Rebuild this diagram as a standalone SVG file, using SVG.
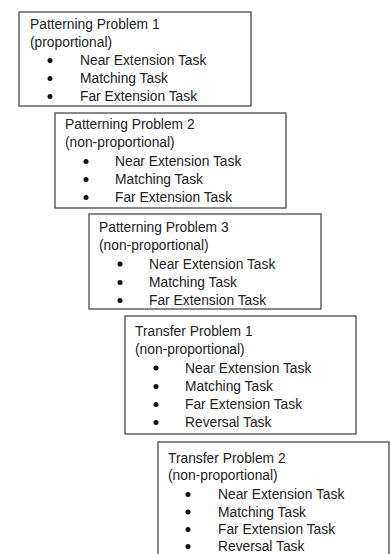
<svg xmlns="http://www.w3.org/2000/svg" width="390" height="554" viewBox="0 0 390 554">
<style>
  .box { fill: #ffffff; stroke: #4a4a4a; stroke-width: 1.3; }
  .t { font-family: "Liberation Sans", Arial, sans-serif; font-size: 13.8px; fill: #222222; }
  .dot { fill: #111111; }
</style>
<rect x="0" y="0" width="390" height="554" fill="#ffffff"/>
<g id="connectors"/>
<g id="patterning-problem-1">
  <rect class="box" x="19" y="12" width="232" height="94"/>
  <text class="t" x="30" y="28.5">Patterning Problem 1</text>
  <text class="t" x="30" y="46.5">(proportional)</text>
  <circle class="dot" cx="50" cy="60.5" r="2.5"/>
  <text class="t" x="80" y="65">Near Extension Task</text>
  <circle class="dot" cx="50" cy="78.5" r="2.5"/>
  <text class="t" x="80" y="83">Matching Task</text>
  <circle class="dot" cx="50" cy="96.5" r="2.5"/>
  <text class="t" x="80" y="101">Far Extension Task</text>
</g>
<g id="patterning-problem-2">
  <rect class="box" x="55" y="113" width="231" height="95"/>
  <text class="t" x="65" y="128.5">Patterning Problem 2</text>
  <text class="t" x="65" y="147">(non-proportional)</text>
  <circle class="dot" cx="86" cy="161.5" r="2.5"/>
  <text class="t" x="115" y="166">Near Extension Task</text>
  <circle class="dot" cx="86" cy="179.5" r="2.5"/>
  <text class="t" x="115" y="184">Matching Task</text>
  <circle class="dot" cx="86" cy="197.5" r="2.5"/>
  <text class="t" x="115" y="202">Far Extension Task</text>
</g>
<g id="patterning-problem-3">
  <rect class="box" x="89" y="214" width="232" height="95"/>
  <text class="t" x="99" y="232">Patterning Problem 3</text>
  <text class="t" x="99" y="250">(non-proportional)</text>
  <circle class="dot" cx="120" cy="264" r="2.5"/>
  <text class="t" x="149" y="268.5">Near Extension Task</text>
  <circle class="dot" cx="120" cy="282.5" r="2.5"/>
  <text class="t" x="149" y="287">Matching Task</text>
  <circle class="dot" cx="120" cy="300.5" r="2.5"/>
  <text class="t" x="149" y="305">Far Extension Task</text>
</g>
<g id="transfer-problem-1">
  <rect class="box" x="125" y="316" width="231" height="118"/>
  <text class="t" x="135" y="336">Transfer Problem 1</text>
  <text class="t" x="135" y="354">(non-proportional)</text>
  <circle class="dot" cx="156" cy="368" r="2.5"/>
  <text class="t" x="185" y="372.5">Near Extension Task</text>
  <circle class="dot" cx="156" cy="386.5" r="2.5"/>
  <text class="t" x="185" y="391">Matching Task</text>
  <circle class="dot" cx="156" cy="404.5" r="2.5"/>
  <text class="t" x="185" y="409">Far Extension Task</text>
  <circle class="dot" cx="156" cy="422.5" r="2.5"/>
  <text class="t" x="185" y="427">Reversal Task</text>
</g>
<g id="transfer-problem-2">
  <rect class="box" x="158" y="442" width="231" height="122"/>
  <text class="t" x="168" y="462.5">Transfer Problem 2</text>
  <text class="t" x="168" y="480">(non-proportional)</text>
  <circle class="dot" cx="188" cy="494.5" r="2.5"/>
  <text class="t" x="218" y="499">Near Extension Task</text>
  <circle class="dot" cx="188" cy="512" r="2.5"/>
  <text class="t" x="218" y="516.5">Matching Task</text>
  <circle class="dot" cx="188" cy="529.5" r="2.5"/>
  <text class="t" x="218" y="534">Far Extension Task</text>
  <circle class="dot" cx="188" cy="546.5" r="2.5"/>
  <text class="t" x="218" y="551">Reversal Task</text>
</g>
</svg>
